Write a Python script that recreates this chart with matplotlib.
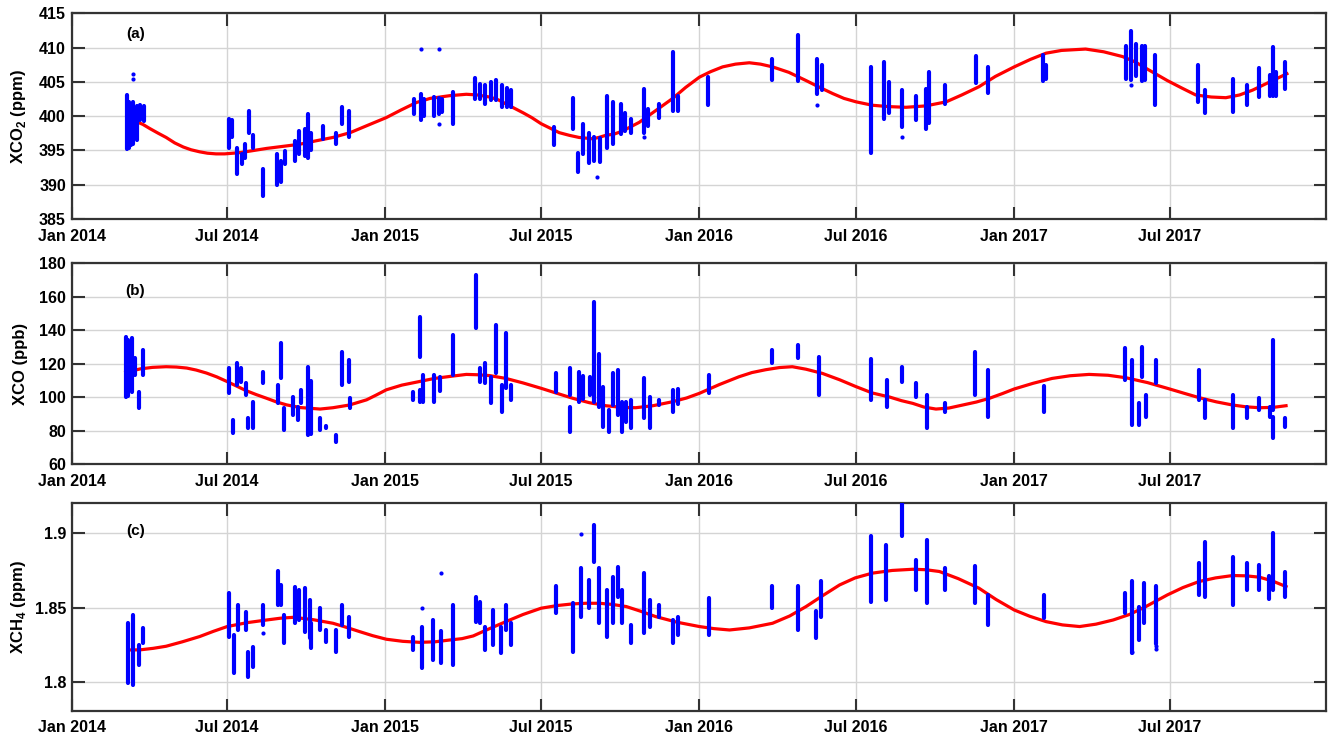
import pandas as pd
import matplotlib
matplotlib.use('Agg')
import matplotlib.pyplot as plt
import matplotlib.dates as mdates
import matplotlib.ticker as ticker


# ============================================================
#  XCO2 / XCO / XCH4 time series with seasonal fit
#  each measurement day is kept as (date, min, max)
# ============================================================

plt.rcParams['font.family'] = ['Liberation Sans', 'DejaVu Sans']
plt.rcParams['font.weight'] = 'bold'
plt.rcParams['mathtext.fontset'] = 'custom'
plt.rcParams['mathtext.rm'] = 'Liberation Sans'
plt.rcParams['mathtext.bf'] = 'Liberation Sans:bold'

# ---------------- (a) XCO2 ----------------
co2_dates = ['2014-03-06', '2014-03-09', '2014-03-11', '2014-03-14', '2014-03-18', '2014-03-22', '2014-03-26',
             '2014-07-03', '2014-07-07', '2014-07-12', '2014-07-18', '2014-07-22', '2014-07-26', '2014-07-31',
             '2014-08-12', '2014-08-28', '2014-09-01', '2014-09-06', '2014-09-18', '2014-09-23', '2014-09-29',
             '2014-10-03', '2014-10-07', '2014-10-20', '2014-11-05', '2014-11-11', '2014-11-20',
             '2015-02-03', '2015-02-11', '2015-02-15', '2015-02-27', '2015-03-04', '2015-03-08', '2015-03-20',
             '2015-04-15', '2015-04-21', '2015-04-27', '2015-05-04', '2015-05-10', '2015-05-16', '2015-05-22',
             '2015-05-27', '2015-07-16', '2015-08-07', '2015-08-13', '2015-08-19', '2015-08-26', '2015-09-01',
             '2015-09-07', '2015-09-16', '2015-09-22', '2015-10-02', '2015-10-07', '2015-10-14', '2015-10-28',
             '2015-11-02', '2015-11-15', '2015-12-01', '2015-12-07', '2016-01-11', '2016-03-25', '2016-04-25',
             '2016-05-17', '2016-05-22', '2016-07-19', '2016-08-03', '2016-08-08', '2016-08-24', '2016-09-09',
             '2016-09-20', '2016-09-24', '2016-10-12', '2016-11-17', '2016-12-01', '2017-02-03', '2017-02-07',
             '2017-05-11', '2017-05-17', '2017-05-23', '2017-05-29', '2017-06-02', '2017-06-14', '2017-08-03',
             '2017-08-11', '2017-09-12', '2017-09-29', '2017-10-13', '2017-10-25', '2017-10-29', '2017-11-01',
             '2017-11-12']
co2_lo = [395.2, 395.4, 395.8, 396.0, 396.5, 399.4, 399.3,
          395.4, 396.9, 391.5, 393.0, 393.9, 397.6, 395.4,
          388.3, 390.0, 390.4, 393.0, 393.5, 394.5, 394.2,
          393.9, 395.0, 396.7, 395.9, 398.9, 396.9,
          400.3, 399.4, 400.0, 400.1, 400.3, 400.6, 398.9,
          402.5, 402.5, 401.8, 402.3, 402.3, 401.3, 401.4,
          401.4, 395.8, 398.1, 391.8, 394.5, 393.2, 393.5,
          393.3, 395.4, 396.0, 397.4, 397.8, 397.6, 397.6,
          398.5, 399.8, 400.8, 400.8, 401.6, 405.3, 405.2,
          403.3, 403.8, 394.6, 399.6, 400.5, 398.4, 399.4,
          398.1, 399.0, 401.8, 404.8, 403.4, 405.2, 405.5,
          405.5, 405.3, 405.8, 405.2, 405.3, 401.6, 402.1,
          400.4, 400.6, 401.7, 402.8, 403.0, 403.0, 403.0,
          404.0]
co2_hi = [403.1, 402.1, 401.8, 402.0, 401.5, 401.6, 401.5,
          399.6, 399.4, 395.4, 394.5, 396.0, 400.8, 397.2,
          392.3, 394.5, 393.5, 394.9, 396.4, 397.9, 398.2,
          400.3, 397.6, 398.6, 397.6, 401.3, 400.8,
          402.5, 403.3, 402.5, 402.8, 402.7, 402.5, 403.5,
          405.6, 404.7, 404.5, 405.0, 405.3, 404.5, 404.1,
          403.8, 398.4, 402.7, 394.7, 398.9, 397.6, 397.0,
          396.8, 403.0, 402.0, 401.8, 400.5, 399.6, 404.0,
          401.0, 401.8, 409.4, 403.0, 405.7, 408.3, 411.9,
          408.4, 407.5, 407.2, 407.9, 405.0, 403.8, 403.0,
          404.0, 406.5, 404.5, 408.8, 407.2, 408.9, 407.5,
          410.2, 412.4, 410.6, 410.3, 410.3, 408.9, 407.5,
          403.8, 405.5, 404.5, 407.0, 406.0, 410.1, 406.5,
          407.9]
co2_out_dates = ['2014-03-14', '2014-03-14', '2015-02-11', '2015-03-04', '2015-03-04',
                 '2015-09-04', '2015-10-28', '2016-05-17', '2016-08-24', '2017-05-17']
co2_out_vals = [406.2, 405.5, 409.8, 409.8, 398.9, 391.1, 396.9, 401.6, 396.9, 404.5]
co2_fit_dates = ['2014-03-12', '2014-03-25', '2014-04-02', '2014-04-12', '2014-04-21', '2014-05-01',
                 '2014-05-11', '2014-05-20', '2014-05-30', '2014-06-08', '2014-06-18', '2014-06-28',
                 '2014-07-08', '2014-07-17', '2014-07-27', '2014-08-16', '2014-09-04', '2014-09-23',
                 '2014-10-12', '2014-11-01', '2014-11-21', '2014-12-10', '2015-01-02', '2015-01-19',
                 '2015-02-06', '2015-02-22', '2015-03-17', '2015-04-05', '2015-04-18', '2015-05-02',
                 '2015-05-12', '2015-05-21', '2015-06-10', '2015-06-20', '2015-07-01', '2015-07-22',
                 '2015-08-03', '2015-08-14', '2015-08-22', '2015-08-30', '2015-09-06', '2015-09-14',
                 '2015-09-24', '2015-10-03', '2015-10-23', '2015-11-11', '2015-11-21', '2015-12-01',
                 '2015-12-16', '2016-01-01', '2016-01-14', '2016-01-28', '2016-02-12', '2016-02-28',
                 '2016-03-12', '2016-03-26', '2016-04-14', '2016-05-04', '2016-05-20', '2016-06-04',
                 '2016-06-17', '2016-07-01', '2016-07-20', '2016-08-08', '2016-08-28', '2016-09-20',
                 '2016-10-14', '2016-11-01', '2016-11-21', '2016-12-10', '2017-01-01', '2017-01-20',
                 '2017-02-07', '2017-02-25', '2017-03-25', '2017-04-15', '2017-05-07', '2017-05-22',
                 '2017-06-03', '2017-06-28', '2017-07-15', '2017-07-31', '2017-08-18', '2017-09-04',
                 '2017-09-20', '2017-10-05', '2017-10-25', '2017-11-14']
co2_fit_vals = [399.5, 398.8, 398.2, 397.5, 396.9, 396.1,
                395.5, 395.1, 394.8, 394.6, 394.5, 394.5,
                394.6, 394.7, 394.9, 395.3, 395.6, 395.9,
                396.4, 396.9, 397.6, 398.6, 399.8, 400.9,
                402.0, 402.6, 403.0, 403.2, 403.1, 402.8,
                402.4, 401.8, 400.5, 399.8, 398.9, 397.6,
                397.2, 396.9, 396.8, 396.7, 396.9, 397.2,
                397.4, 397.8, 399.1, 400.8, 401.7, 402.6,
                404.2, 405.7, 406.5, 407.2, 407.6, 407.8,
                407.6, 407.2, 406.4, 405.2, 404.2, 403.3,
                402.6, 402.1, 401.6, 401.4, 401.3, 401.5,
                402.1, 403.1, 404.3, 405.8, 407.2, 408.3,
                409.2, 409.6, 409.8, 409.4, 408.7, 407.9,
                407.0, 405.2, 404.1, 403.1, 402.8, 402.7,
                403.1, 403.8, 405.0, 406.2]

# ---------------- (b) XCO ----------------
co_dates = ['2014-03-05', '2014-03-08', '2014-03-12', '2014-03-16', '2014-03-21', '2014-03-25',
            '2014-07-03', '2014-07-08', '2014-07-12', '2014-07-17', '2014-07-23', '2014-07-25', '2014-07-31',
            '2014-08-12', '2014-08-29', '2014-09-02', '2014-09-05', '2014-09-16', '2014-09-21', '2014-09-25',
            '2014-10-03', '2014-10-07', '2014-10-17', '2014-10-24', '2014-11-04', '2014-11-11', '2014-11-20',
            '2014-11-21', '2015-02-02', '2015-02-10', '2015-02-10', '2015-02-14', '2015-02-27', '2015-03-05',
            '2015-03-20', '2015-04-16', '2015-04-21', '2015-04-27', '2015-05-04', '2015-05-10', '2015-05-17',
            '2015-05-21', '2015-05-27', '2015-07-18', '2015-08-04', '2015-08-04', '2015-08-14', '2015-08-19',
            '2015-08-27', '2015-08-31', '2015-09-06', '2015-09-11', '2015-09-18', '2015-09-22', '2015-09-28',
            '2015-10-03', '2015-10-08', '2015-10-14', '2015-10-29', '2015-11-04', '2015-11-15', '2015-12-01',
            '2015-12-07', '2016-01-12', '2016-03-25', '2016-04-25', '2016-05-19', '2016-07-19', '2016-08-06',
            '2016-08-24', '2016-09-09', '2016-09-22', '2016-10-12', '2016-11-16', '2016-12-01', '2017-02-05',
            '2017-05-10', '2017-05-18', '2017-05-26', '2017-05-30', '2017-06-03', '2017-06-15', '2017-08-04',
            '2017-08-11', '2017-09-12', '2017-09-29', '2017-10-13', '2017-10-25', '2017-10-29', '2017-10-29',
            '2017-11-12']
co_lo = [100.4, 101.0, 103.4, 113.3, 93.4, 113.3,
         102.4, 78.5, 107.4, 109.0, 101.4, 81.5, 81.5,
         108.4, 96.4, 111.3, 80.5, 89.4, 86.5, 96.4,
         77.5, 78.0, 80.5, 81.5, 73.5, 107.4, 109.4,
         93.4, 98.4, 124.3, 97.4, 97.4, 97.4, 104.0,
         113.3, 141.2, 109.4, 108.4, 96.4, 114.3, 91.4,
         105.4, 98.4, 103.4, 101.4, 79.5, 97.4, 99.0,
         101.4, 97.4, 94.0, 82.5, 79.5, 95.4, 89.4,
         79.5, 85.5, 81.5, 87.5, 81.5, 95.4, 91.4,
         96.0, 102.4, 120.3, 123.3, 101.4, 98.4, 94.4,
         109.4, 100.4, 81.5, 91.4, 101.4, 88.5, 91.4,
         110.3, 83.5, 83.5, 112.3, 88.5, 108.4, 98.4,
         87.5, 81.5, 87.5, 92.4, 88.5, 92.4, 75.5,
         82.5]
co_hi = [136.2, 134.0, 135.2, 123.3, 103.4, 128.3,
         117.3, 86.5, 120.3, 117.3, 108.4, 87.5, 97.4,
         115.3, 107.4, 132.2, 93.4, 100.4, 94.4, 104.4,
         118.3, 110.0, 87.5, 82.6, 77.5, 127.3, 122.3,
         99.4, 103.4, 148.2, 104.4, 113.3, 113.3, 112.0,
         137.2, 173.0, 117.3, 120.3, 112.3, 143.2, 107.4,
         138.2, 107.4, 114.3, 117.3, 94.4, 115.3, 113.0,
         112.3, 157.0, 126.0, 106.4, 92.4, 114.3, 116.3,
         97.4, 97.4, 98.4, 111.3, 100.4, 98.4, 104.4,
         104.9, 113.3, 128.3, 131.2, 124.3, 122.9, 110.3,
         118.3, 108.4, 101.4, 96.4, 127.3, 116.3, 107.0,
         129.3, 122.3, 96.4, 130.2, 101.4, 122.3, 116.3,
         98.4, 101.4, 94.4, 99.4, 94.4, 134.2, 88.5,
         87.9]
co_fit_dates = ['2014-03-05', '2014-03-22', '2014-04-05', '2014-04-21', '2014-05-03', '2014-05-15',
                '2014-05-26', '2014-06-07', '2014-06-19', '2014-07-01', '2014-07-12', '2014-07-23',
                '2014-08-04', '2014-08-16', '2014-08-27', '2014-09-08', '2014-09-24', '2014-10-17',
                '2014-11-01', '2014-11-20', '2014-12-10', '2014-12-21', '2015-01-02', '2015-01-20',
                '2015-02-10', '2015-02-27', '2015-03-17', '2015-04-05', '2015-04-18', '2015-05-02',
                '2015-05-21', '2015-06-10', '2015-07-01', '2015-07-20', '2015-08-07', '2015-08-26',
                '2015-09-14', '2015-10-03', '2015-10-19', '2015-11-08', '2015-12-01', '2015-12-17',
                '2016-01-01', '2016-01-24', '2016-02-16', '2016-03-02', '2016-03-18', '2016-04-03',
                '2016-04-18', '2016-05-04', '2016-05-23', '2016-06-12', '2016-07-01', '2016-07-20',
                '2016-08-09', '2016-08-23', '2016-09-05', '2016-09-18', '2016-10-02', '2016-10-17',
                '2016-11-02', '2016-11-18', '2016-12-03', '2016-12-18', '2017-01-01', '2017-01-23',
                '2017-02-14', '2017-03-07', '2017-03-29', '2017-04-20', '2017-05-11', '2017-06-05',
                '2017-06-28', '2017-07-17', '2017-08-04', '2017-08-24', '2017-09-12', '2017-09-28',
                '2017-10-13', '2017-10-29', '2017-11-13']
co_fit_vals = [115.0, 117.0, 117.9, 118.3, 118.1, 117.5,
               116.3, 114.5, 112.2, 109.4, 106.7, 104.0,
               101.6, 99.4, 97.3, 95.5, 93.9, 93.0,
               93.8, 95.4, 98.5, 101.3, 104.5, 107.3,
               109.5, 111.3, 112.5, 113.7, 113.5, 113.0,
               111.3, 108.6, 105.4, 102.3, 99.4, 96.8,
               95.0, 94.0, 93.8, 95.0, 97.4, 99.6,
               102.4, 107.6, 112.3, 114.8, 116.5, 117.8,
               118.3, 116.8, 114.3, 110.5, 106.4, 102.6,
               100.2, 98.0, 96.4, 94.2, 93.0, 93.6,
               95.4, 97.2, 99.4, 102.2, 105.0, 108.4,
               111.3, 112.9, 113.7, 113.2, 111.7, 108.8,
               105.4, 102.5, 99.8, 97.3, 95.4, 94.3,
               93.8, 94.0, 95.0]

# ---------------- (c) XCH4 ----------------
ch4_dates = ['2014-03-08', '2014-03-14', '2014-03-21', '2014-03-25', '2014-07-03', '2014-07-09',
             '2014-07-14', '2014-07-23', '2014-07-25', '2014-07-31', '2014-08-12', '2014-08-29',
             '2014-09-02', '2014-09-05', '2014-09-18', '2014-09-23', '2014-09-29', '2014-10-05',
             '2014-10-07', '2014-10-17', '2014-10-24', '2014-11-04', '2014-11-11', '2014-11-20',
             '2015-02-02', '2015-02-12', '2015-02-25', '2015-03-06', '2015-03-20', '2015-04-16',
             '2015-04-21', '2015-04-27', '2015-05-06', '2015-05-15', '2015-05-21', '2015-05-27',
             '2015-07-18', '2015-08-07', '2015-08-16', '2015-08-26', '2015-08-31', '2015-09-06',
             '2015-09-16', '2015-09-22', '2015-09-28', '2015-10-03', '2015-10-14', '2015-10-29',
             '2015-11-04', '2015-11-15', '2015-12-01', '2015-12-07', '2016-01-12', '2016-03-25',
             '2016-04-25', '2016-05-16', '2016-05-21', '2016-07-19', '2016-08-05', '2016-08-24',
             '2016-09-09', '2016-09-22', '2016-10-12', '2016-11-16', '2016-12-01', '2017-02-05',
             '2017-05-10', '2017-05-18', '2017-05-26', '2017-06-01', '2017-06-15', '2017-08-04',
             '2017-08-11', '2017-09-12', '2017-09-29', '2017-10-13', '2017-10-24', '2017-10-29',
             '2017-11-12']
ch4_lo = [1.7993, 1.7982, 1.8116, 1.8262, 1.8306, 1.8060,
          1.8351, 1.8351, 1.8038, 1.8105, 1.8385, 1.8519,
          1.8519, 1.8262, 1.8396, 1.8418, 1.8340, 1.8295,
          1.8230, 1.8351, 1.8273, 1.8206, 1.8385, 1.8306,
          1.8217, 1.8094, 1.8150, 1.8128, 1.8116, 1.8407,
          1.8396, 1.8217, 1.8251, 1.8195, 1.8351, 1.8251,
          1.8463, 1.8206, 1.8441, 1.8497, 1.8810, 1.8396,
          1.8306, 1.8396, 1.8575, 1.8396, 1.8262, 1.8329,
          1.8374, 1.8441, 1.8262, 1.8318, 1.8318, 1.8497,
          1.8351, 1.8296, 1.8441, 1.8541, 1.8553, 1.8978,
          1.8620, 1.8530, 1.8620, 1.8530, 1.8385, 1.8429,
          1.8463, 1.8195, 1.8284, 1.8396, 1.8257, 1.8586,
          1.8575, 1.8519, 1.8620, 1.8620, 1.8562, 1.8620,
          1.8575]
ch4_hi = [1.8396, 1.8452, 1.8251, 1.8362, 1.8597, 1.8318,
          1.8519, 1.8474, 1.8206, 1.8239, 1.8519, 1.8743,
          1.8650, 1.8452, 1.8642, 1.8620, 1.8631, 1.8550,
          1.8400, 1.8497, 1.8351, 1.8351, 1.8519, 1.8441,
          1.8306, 1.8374, 1.8418, 1.8347, 1.8519, 1.8575,
          1.8541, 1.8374, 1.8485, 1.8374, 1.8519, 1.8396,
          1.8647, 1.8530, 1.8765, 1.8687, 1.9056, 1.8765,
          1.8620, 1.8709, 1.8772, 1.8620, 1.8385, 1.8730,
          1.8553, 1.8519, 1.8418, 1.8441, 1.8564, 1.8647,
          1.8647, 1.8475, 1.8676, 1.8978, 1.8922, 1.9213,
          1.8821, 1.8955, 1.8765, 1.8777, 1.8586, 1.8586,
          1.8597, 1.8676, 1.8508, 1.8665, 1.8644, 1.8799,
          1.8944, 1.8839, 1.8799, 1.8788, 1.8714, 1.9000,
          1.8738]
ch4_out_dates = ['2014-08-12', '2015-02-12', '2015-03-06', '2015-08-16', '2017-05-18',
                 '2017-06-15', '2017-06-15']
ch4_out_vals = [1.833, 1.850, 1.8732, 1.8993, 1.8206, 1.8244, 1.8226]
ch4_fit_dates = ['2014-03-08', '2014-03-22', '2014-04-06', '2014-04-21', '2014-05-10', '2014-05-30',
                 '2014-06-15', '2014-07-01', '2014-07-24', '2014-08-16', '2014-09-01', '2014-09-16',
                 '2014-10-09', '2014-11-01', '2014-11-17', '2014-12-02', '2014-12-17', '2015-01-02',
                 '2015-01-21', '2015-02-10', '2015-02-28', '2015-03-17', '2015-03-31', '2015-04-13',
                 '2015-04-28', '2015-05-21', '2015-06-10', '2015-07-01', '2015-07-20', '2015-08-07',
                 '2015-08-22', '2015-09-07', '2015-09-22', '2015-10-08', '2015-10-25', '2015-11-11',
                 '2015-12-06', '2016-01-01', '2016-01-18', '2016-02-05', '2016-02-28', '2016-03-26',
                 '2016-04-15', '2016-05-04', '2016-05-23', '2016-06-12', '2016-06-30', '2016-07-20',
                 '2016-08-12', '2016-09-05', '2016-09-20', '2016-10-06', '2016-10-28', '2016-11-21',
                 '2016-12-11', '2017-01-01', '2017-01-19', '2017-02-07', '2017-02-26', '2017-03-18',
                 '2017-04-06', '2017-04-26', '2017-05-15', '2017-06-03', '2017-06-28', '2017-07-16',
                 '2017-08-04', '2017-08-23', '2017-09-12', '2017-09-27', '2017-10-13', '2017-10-28',
                 '2017-11-13']
ch4_fit_vals = [1.8217, 1.8218, 1.8228, 1.8242, 1.8272, 1.8307,
                1.8342, 1.8374, 1.8400, 1.8418, 1.8430, 1.8436,
                1.8420, 1.8396, 1.8368, 1.8340, 1.8313, 1.8289,
                1.8275, 1.8268, 1.8272, 1.8284, 1.8293, 1.8311,
                1.8350, 1.8407, 1.8455, 1.8497, 1.8515, 1.8526,
                1.8530, 1.8530, 1.8522, 1.8508, 1.8476, 1.8441,
                1.8403, 1.8374, 1.8360, 1.8351, 1.8365, 1.8396,
                1.8445, 1.8508, 1.8580, 1.8653, 1.8700, 1.8732,
                1.8750, 1.8758, 1.8755, 1.8743, 1.8695, 1.8631,
                1.8555, 1.8485, 1.8443, 1.8407, 1.8385, 1.8374,
                1.8390, 1.8418, 1.8455, 1.8508, 1.8586, 1.8635,
                1.8676, 1.8700, 1.8716, 1.8714, 1.8705, 1.8680,
                1.8642]

BLUE = '#0000ff'
RED = '#ff0000'
EDGE = '#333333'


def draw_panel(ax, dates, lo, hi, fit_dates, fit_vals, out_dates, out_vals,
               ylim, yticks, ylabel, tag, tag_y):
    ax.plot(pd.to_datetime(fit_dates), fit_vals, color=RED, linewidth=2.3,
            solid_joinstyle='round', zorder=2)
    ax.vlines(pd.to_datetime(dates), lo, hi, colors=BLUE, linewidth=3.0,
              capstyle='round', zorder=3)
    if out_dates:
        ax.scatter(pd.to_datetime(out_dates), out_vals, s=9, color=BLUE,
                   linewidths=0, zorder=3)

    ax.set_xlim(pd.Timestamp('2014-01-01'), pd.Timestamp('2017-12-30'))
    ax.set_ylim(*ylim)
    ax.set_yticks(yticks)
    ax.yaxis.set_major_formatter(ticker.FuncFormatter(lambda v, p: f'{v:g}'))
    ax.xaxis.set_major_locator(mdates.MonthLocator(bymonth=[1, 7]))
    ax.xaxis.set_major_formatter(mdates.DateFormatter('%b %Y'))

    ax.grid(True, color='#d4d4d4', linewidth=1.0)
    ax.set_axisbelow(True)
    for sp in ax.spines.values():
        sp.set_color(EDGE)
        sp.set_linewidth(1.6)
    ax.tick_params(direction='in', length=9, width=1.5, color=EDGE,
                   top=True, right=True, labelsize=11.5)
    ax.tick_params(axis='x', pad=7)
    ax.tick_params(axis='y', pad=4)

    ax.set_ylabel(ylabel, fontsize=12, fontweight='bold')
    ax.yaxis.set_label_coords(-0.0347, 0.5)
    ax.text(0.051, tag_y, tag, transform=ax.transAxes, fontsize=11,
            fontweight='bold', ha='center', va='center')


fig = plt.figure(figsize=(13.29, 7.38), dpi=100)
ax_a = fig.add_axes([0.0538, 0.7033, 0.9443, 0.2785])
ax_b = fig.add_axes([0.0538, 0.3709, 0.9443, 0.2721])
ax_c = fig.add_axes([0.0538, 0.0370, 0.9443, 0.2810])

draw_panel(ax_a, co2_dates, co2_lo, co2_hi, co2_fit_dates, co2_fit_vals,
           co2_out_dates, co2_out_vals, (385, 415), [385, 390, 395, 400, 405, 410, 415],
           r'XCO$_\mathbf{2}$ (ppm)', '(a)', 0.90)
draw_panel(ax_b, co_dates, co_lo, co_hi, co_fit_dates, co_fit_vals,
           [], [], (60, 180), [60, 80, 100, 120, 140, 160, 180],
           'XCO (ppb)', '(b)', 0.865)
draw_panel(ax_c, ch4_dates, ch4_lo, ch4_hi, ch4_fit_dates, ch4_fit_vals,
           ch4_out_dates, ch4_out_vals, (1.781, 1.92), [1.8, 1.85, 1.9],
           r'XCH$_\mathbf{4}$ (ppm)', '(c)', 0.868)

fig.savefig('out.png', dpi=100)
